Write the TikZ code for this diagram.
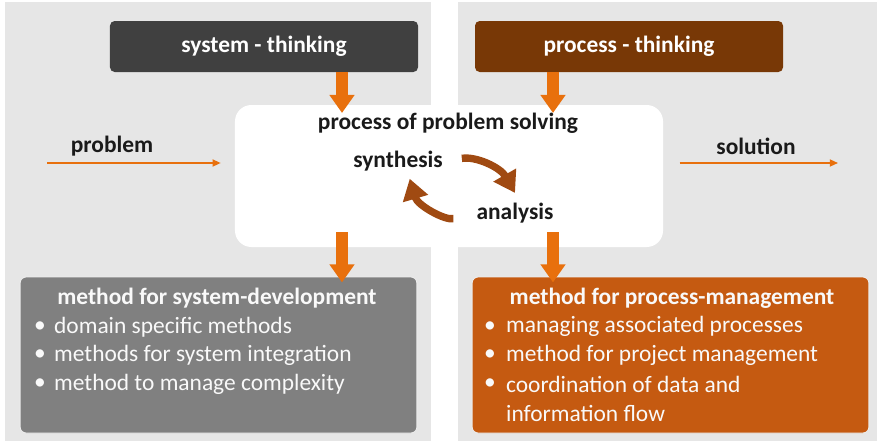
\documentclass[tikz,border=0pt]{standalone}
\usepackage{fontspec}
\setmainfont{Carlito}
\usetikzlibrary{arrows.meta,positioning}

\definecolor{panelgray}{HTML}{E6E6E6}
\definecolor{sysgray}{HTML}{404040}
\definecolor{procbrown}{HTML}{783806}
\definecolor{flowred}{HTML}{E8700D}
\definecolor{cyclebrown}{HTML}{A04A12}
\definecolor{devgray}{HTML}{808080}
\definecolor{mgmtrust}{HTML}{C55A11}
\definecolor{inktext}{HTML}{1A1A1A}

\begin{document}
\begin{tikzpicture}[x=0.03cm, y=-0.03cm,
    thinkbox/.style={rounded corners=4pt, minimum width=9.24cm, minimum height=1.53cm,
        text=white, font=\bfseries\fontsize{20}{24}\selectfont},
    methodbox/.style={rounded corners=5pt, draw=white!85!gray, line width=0.8pt,
        minimum width=11.9cm, minimum height=4.68cm},
    boxtitle/.style={text=white!95!gray, font=\bfseries\fontsize{20}{24}\selectfont},
    bulletline/.style={anchor=west, text=white!95!gray, font=\fontsize{20}{24}\selectfont},
    bulletdot/.style={text=white!95!gray, font=\fontsize{20}{24}\selectfont},
    coretext/.style={text=inktext, font=\bfseries\fontsize{20}{24}\selectfont},
    feed/.style={draw=flowred, line width=0.36cm, -{Triangle[width=0.72cm, length=0.54cm]}},
    cycle/.style={draw=cyclebrown, line width=0.22cm, -{Triangle[width=0.75cm, length=0.62cm]}},
    inout/.style={draw=flowred, line width=1.4pt, -{Triangle[width=6pt, length=7pt]}}]

    \useasboundingbox (0,0) rectangle (879,441);

    % background panels
    \fill[panelgray] (5,2) rectangle (431,441);
    \fill[panelgray] (458,2) rectangle (877,441);

    \node[thinkbox, fill=sysgray] (sys) at (264,46.5) {system - thinking};
    \node[thinkbox, fill=procbrown] (proc) at (629,46.5) {process - thinking};

    \node[fill=white, rounded corners=14pt, minimum width=12.84cm, minimum height=4.26cm] (core) at (449,176) {};
    \node[coretext] (title) at (448,123) {process of problem solving};
    \node[coretext] (syn) at (398,161) {synthesis};
    \node[coretext] (ana) at (515,213) {analysis};

    \node[methodbox, fill=devgray] (dev) at (218.5,355) {};
    \node[methodbox, fill=mgmtrust] (mgmt) at (670.5,355) {};

    \coordinate (colL) at (342,0);
    \coordinate (colR) at (553,0);

    % arrows into and out of the core
    \draw[feed] (sys.south -| colL) -- ([yshift=-7pt]core.north -| colL);
    \draw[feed] (proc.south -| colR) -- ([yshift=-7pt]core.north -| colR);
    \draw[feed] ([yshift=13pt]core.south -| colL) -- ([yshift=-5pt]dev.north -| colL);
    \draw[feed] ([yshift=13pt]core.south -| colR) -- ([yshift=-5pt]mgmt.north -| colR);

    \draw[cycle, shorten <=13pt] (syn.east) to[bend left=35] ([yshift=5pt]ana.north);
    \draw[cycle, shorten <=17pt] (ana.west) to[bend left=45] ([xshift=10pt, yshift=-3pt]syn.south);

    % problem / solution
    \node[coretext] (prob) at (112,146) {problem};
    \node[coretext] (sol) at (756,146) {solution};
    \coordinate (probStart) at (47,163);
    \coordinate (solEnd) at (838,163);
    \draw[inout] (probStart) -- ([xshift=-12pt]core.west |- probStart);
    \draw[inout] ([xshift=14pt]core.east |- solEnd) -- (solEnd);

    % method lists
    \node[boxtitle] (devTitle) at (217,298) {method for system-development};
    \foreach \txt [count=\i] in {domain specific methods, methods for system integration, method to manage complexity} {
        \node[bulletdot] at (40,298+28.8*\i) {\textbullet};
        \node[bulletline] at (50,298+28.8*\i) {\txt};
    }

    \node[boxtitle] (mgmtTitle) at (672,298) {method for process-management};
    \foreach \txt [count=\i] in {managing associated processes, method for project management, coordination of data and} {
        \node[bulletdot] at (490,298+28.8*\i) {\textbullet};
        \node[bulletline] at (502,298+28.8*\i) {\txt};
    }
    \node[bulletline] at (502,413) {information flow};

\end{tikzpicture}
\end{document}
